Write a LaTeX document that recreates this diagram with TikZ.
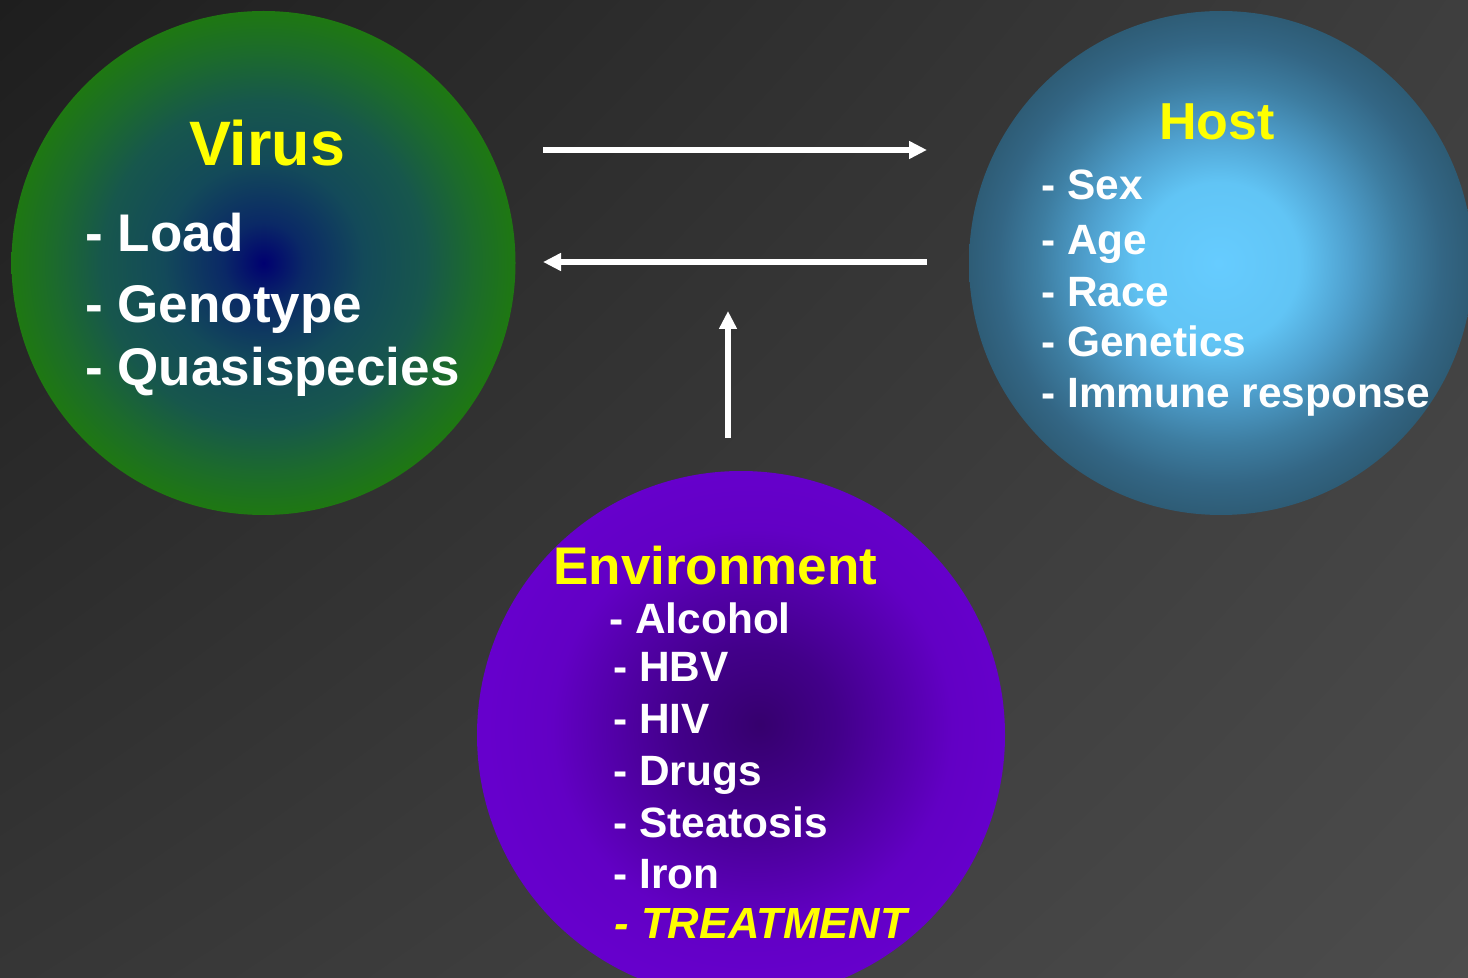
\documentclass[tikz,border=0pt]{standalone}
\usepackage{fontspec}
\setmainfont{Liberation Sans}
\usetikzlibrary{arrows.meta,shadings}
\definecolor{ttlyellow}{RGB}{255,255,0}
\definecolor{bgUL}{RGB}{30,30,30}
\definecolor{bgUR}{RGB}{62,62,62}
\definecolor{bgLL}{RGB}{54,54,54}
\definecolor{bgLR}{RGB}{76,76,76}
\pgfdeclareradialshading{virusshade}{\pgfpoint{0bp}{0bp}}{%
  rgb(0bp)=(0,0,0.44);
  rgb(4bp)=(0.04,0.16,0.40);
  rgb(10bp)=(0.075,0.29,0.35);
  rgb(16bp)=(0.09,0.34,0.30);
  rgb(21bp)=(0.11,0.42,0.17);
  rgb(25bp)=(0.12,0.47,0.07);
  rgb(50bp)=(0.12,0.47,0.07)}
\pgfdeclareradialshading{hostshade}{\pgfpoint{-0.25bp}{0bp}}{%
  rgb(0bp)=(0.40,0.80,1.0);
  rgb(8bp)=(0.38,0.77,0.96);
  rgb(13bp)=(0.31,0.63,0.81);
  rgb(18bp)=(0.24,0.49,0.63);
  rgb(22bp)=(0.20,0.40,0.52);
  rgb(25bp)=(0.18,0.36,0.46);
  rgb(50bp)=(0.18,0.36,0.46)}
\pgfdeclareradialshading{envshade}{\pgfpoint{1.75bp}{1bp}}{%
  rgb(0bp)=(0.21,0,0.43);
  rgb(7.5bp)=(0.26,0,0.54);
  rgb(14bp)=(0.33,0,0.67);
  rgb(19bp)=(0.385,0,0.77);
  rgb(25bp)=(0.40,0,0.80);
  rgb(50bp)=(0.40,0,0.80)}
\begin{document}
\begin{tikzpicture}[x=0.5pt,y=-0.5pt,
  ttl/.style={text=ttlyellow, inner sep=0pt, anchor=base},
  itm/.style={text=white, inner sep=0pt, anchor=base west, font=\bfseries\fontsize{21.2}{25}\selectfont},
  vitm/.style={itm, font=\bfseries\fontsize{26.5}{31}\selectfont},
  bubble/.style={circle, inner sep=0pt, draw=none},
  flow/.style={draw=white, line width=2.75pt, -{Triangle[length=9pt,width=8.5pt]}}]
\useasboundingbox (0,0) rectangle (1468,978);
\shade[upper left=bgUL, upper right=bgUR, lower left=bgLL, lower right=bgLR] (0,0) rectangle (1468,978);
% circles
\node[bubble, minimum size=252pt, shading=virusshade] (virus) at (263.5,263) {};
\node[bubble, minimum size=252pt, shading=hostshade] (host) at (1221,263) {};
\node[bubble, minimum size=264pt, shading=envshade] (env) at (741,735) {};
% virus text
\node[ttl, font=\bfseries\fontsize{31.4}{36}\selectfont] (virusT) at (267,165.5) {Virus};
\node[vitm] (vLoad) at (85,252) {- Load};
\node[vitm] (vGeno) at (85,323) {- Genotype};
\node[vitm] (vQuasi) at (85,386) {- Quasispecies};
% host text
\node[ttl, font=\bfseries\fontsize{26}{30}\selectfont] (hostT) at (1217,139.5) {Host};
\node[itm] (hSex) at (1041,200) {- Sex};
\node[itm] (hAge) at (1041,255) {- Age};
\node[itm] (hRace) at (1041,307) {- Race};
\node[itm] (hGen) at (1041,357) {- Genetics};
\node[itm] (hImm) at (1041,408) {- Immune response};
% environment text
\node[ttl, anchor=base west, font=\bfseries\fontsize{26.5}{31}\selectfont] (envT) at (553,585) {Environment};
\node[itm] (eAlc) at (609,633) {- Alcohol};
\node[itm] (eHBV) at (613,682) {- HBV};
\node[itm] (eHIV) at (613,733) {- HIV};
\node[itm] (eDrug) at (613,785) {- Drugs};
\node[itm] (eSteat) at (613,837) {- Steatosis};
\node[itm] (eIron) at (613,888) {- Iron};
\node[itm, text=ttlyellow, font=\bfseries\itshape\fontsize{21.8}{25}\selectfont] (eTreat) at (614,938) {- TREATMENT};
% arrows
\coordinate (a1s) at (543,150);
\coordinate (a1e) at (927,150);
\coordinate (a2s) at (927,262);
\coordinate (a2e) at (543,262);
\coordinate (a3s) at (728,438);
\coordinate (a3e) at (728,311);
\draw[flow] (a1s) -- (a1e);
\draw[flow] (a2s) -- (a2e);
\draw[flow] (a3s) -- (a3e);
\end{tikzpicture}
\end{document}
